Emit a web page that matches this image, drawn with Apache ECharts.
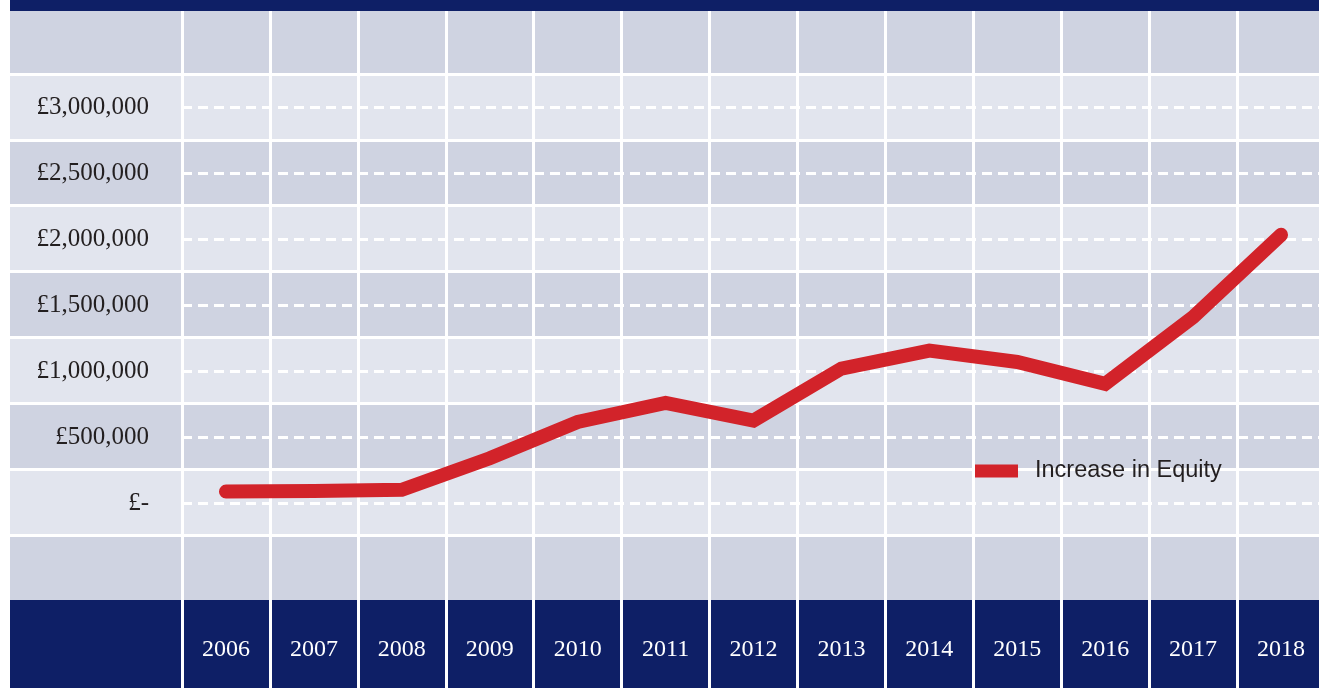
<!DOCTYPE html>
<html>
<head>
<meta charset="utf-8">
<title>Increase in Equity</title>
<script src="https://cdn.jsdelivr.net/npm/echarts@6.0.0/dist/echarts.min.js"></script>
<style>
  html, body { margin: 0; padding: 0; background: #fff; }
  #chart { width: 1319px; height: 688px; }
</style>
</head>
<body>
<div id="chart"></div>
<script>
// data
const years = ['2006', '2007', '2008', '2009', '2010', '2011', '2012', '2013', '2014', '2015', '2016', '2017', '2018']
const equityIncrease = [90000, 95000, 104000, 342000, 617000, 761000, 627000, 1021000, 1157000, 1071000, 905000, 1410000, 2033000]
const yTickValues = [0, 500000, 1000000, 1500000, 2000000, 2500000, 3000000]
const seriesName = 'Increase in Equity'

const NAVY = '#0E1F66'
const BAND_DARK = '#CFD3E1'
const BAND_LIGHT = '#E2E5EE'
const RED = '#D2232A'
const INK = '#231F20'
const SERIF = "'Liberation Serif', serif"
const SANS = "'Liberation Sans', sans-serif"

const yStep = yTickValues[1] - yTickValues[0]

const formatPounds = (v) => {
  if (v === 0) return '£-'
  return '£' + v.toLocaleString('en-GB')
}

const chart = echarts.init(document.getElementById('chart'), null, { renderer: 'canvas' })

// year columns run slightly past the right edge of the page
const colLeft = 182
const colWidth = 1143

const option = {
  backgroundColor: '#fff',
  animation: false,
  grid: [
    // 0: navy strip on top
    { left: 10, right: 0, top: 0, height: 11, show: true, backgroundColor: NAVY, borderWidth: 0 },
    // 1: table body background
    { left: 10, right: 0, top: 11, height: 589, show: true, backgroundColor: BAND_DARK, borderWidth: 0 },
    // 2: navy footer with the years
    { left: 10, right: 0, top: 600, bottom: 0, show: true, backgroundColor: NAVY, borderWidth: 0 },
    // 3: alternating rows centred on the value ticks
    { left: 10, right: 0, top: 74, bottom: 153 },
    // 4: year columns, running down through the footer
    { left: colLeft, width: colWidth, top: 11, bottom: 0, outerBoundsMode: 'none', containLabel: false },
    // 5: data
    { left: colLeft, width: colWidth, top: 107, bottom: 184.5, outerBoundsMode: 'none', containLabel: false }
  ],
  xAxis: [
    { gridIndex: 3, type: 'value', min: 0, max: 1, show: false },
    {
      gridIndex: 4,
      type: 'category',
      data: years,
      boundaryGap: true,
      z: 2,
      axisLine: { show: false },
      axisTick: { show: false },
      axisLabel: {
        inside: true,
        interval: 0,
        margin: 26,
        color: '#fff',
        fontFamily: SERIF,
        fontSize: 24
      },
      splitLine: { show: true, interval: 0, lineStyle: { color: '#fff', width: 3 } }
    },
    {
      gridIndex: 5,
      type: 'category',
      data: years,
      boundaryGap: true,
      axisLine: { show: false },
      axisTick: { show: false },
      axisLabel: { show: false },
      splitLine: { show: false }
    }
  ],
  yAxis: [
    {
      gridIndex: 3,
      type: 'value',
      min: 0,
      max: yTickValues.length,
      interval: 1,
      z: 1,
      axisLine: { show: false },
      axisTick: { show: false },
      axisLabel: { show: false },
      splitArea: { show: true, areaStyle: { color: [BAND_LIGHT, BAND_DARK] } },
      splitLine: { show: true, lineStyle: { color: '#fff', width: 3 } }
    },
    { gridIndex: 4, type: 'value', min: 0, max: 1, show: false },
    {
      gridIndex: 5,
      type: 'value',
      min: yTickValues[0],
      max: yTickValues[yTickValues.length - 1],
      interval: yStep,
      z: 3,
      axisLine: { show: false },
      axisTick: { show: false },
      axisLabel: {
        margin: 33,
        color: INK,
        fontFamily: SERIF,
        fontSize: 25,
        padding: [4, 0, 0, 0],
        formatter: formatPounds
      },
      splitLine: { show: true, lineStyle: { color: '#fff', width: 3, type: [10, 6] } }
    }
  ],
  legend: {
    data: [seriesName],
    left: 975,
    top: 459,
    padding: 0,
    icon: 'rect',
    itemWidth: 43,
    itemHeight: 13,
    textStyle: { color: INK, fontFamily: SANS, fontSize: 23.5, padding: [4, 0, 0, 12] }
  },
  series: [
    {
      name: seriesName,
      type: 'line',
      xAxisIndex: 2,
      yAxisIndex: 2,
      data: equityIncrease,
      symbol: 'none',
      z: 5,
      itemStyle: { color: RED },
      lineStyle: { color: RED, width: 14, cap: 'round', join: 'miter' }
    }
  ]
}

chart.setOption(option)
</script>
</body>
</html>
